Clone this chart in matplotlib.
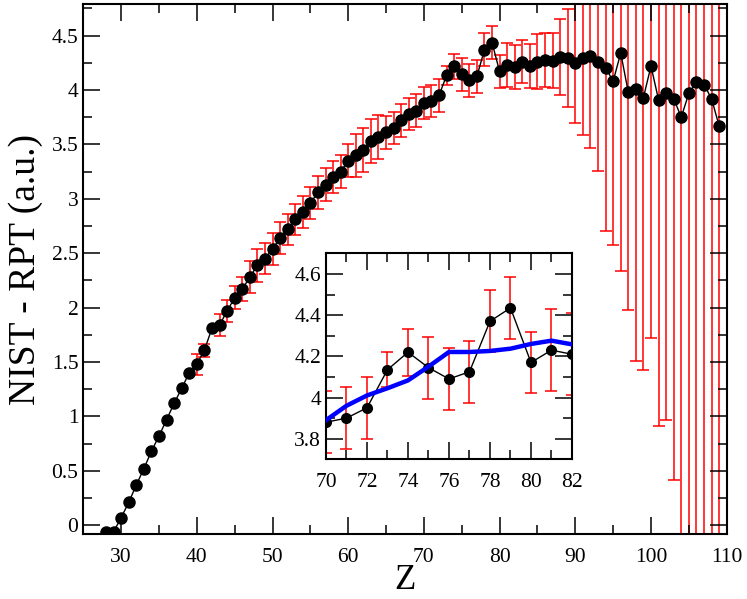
import matplotlib

matplotlib.use("Agg")

import matplotlib.pyplot as plt
import numpy as np
from matplotlib.ticker import FuncFormatter, MultipleLocator

plt.rcParams["font.family"] = ["Liberation Serif", "DejaVu Serif"]

# NIST - RPT difference vs nuclear charge Z
z_values = list(range(28, 110))
diff = [
    -0.06, -0.06, 0.07, 0.21, 0.37, 0.52, 0.68, 0.82, 0.97, 1.12,   # 28-37
    1.26, 1.40, 1.48, 1.61, 1.81, 1.84, 1.97, 2.09, 2.17, 2.28,     # 38-47
    2.39, 2.45, 2.54, 2.64, 2.72, 2.81, 2.88, 2.96, 3.06, 3.13,     # 48-57
    3.20, 3.25, 3.35, 3.40, 3.45, 3.53, 3.57, 3.61, 3.65, 3.72,     # 58-67
    3.78, 3.81, 3.88, 3.90, 3.95, 4.135, 4.22, 4.145, 4.09, 4.125,  # 68-77
    4.37, 4.435, 4.17, 4.23, 4.21, 4.26, 4.22, 4.26, 4.275, 4.27,   # 78-87
    4.305, 4.295, 4.25, 4.29, 4.315, 4.26, 4.205, 4.08, 4.34, 3.98,  # 88-97
    4.01, 3.93, 4.22, 3.91, 3.97, 3.92, 3.75, 3.97, 4.07, 4.05,     # 98-107
    3.92, 3.67,                                                     # 108-109
]
diff_err = [
    0, 0, 0, 0, 0, 0, 0, 0, 0, 0,                                   # 28-37
    0, 0, 0.095, 0.06, 0, 0.10, 0.10, 0.105, 0.11, 0.145,           # 38-47
    0.15, 0.145, 0.145, 0.15, 0.145, 0.14, 0.15, 0.15, 0.15, 0.15,  # 48-57
    0.15, 0.15, 0.15, 0.2, 0.2, 0.2, 0.2, 0.15, 0.15, 0.15,         # 58-67
    0.15, 0.15, 0.15, 0.15, 0.15, 0.086, 0.115, 0.15, 0.15, 0.15,   # 68-77
    0.15, 0.15, 0.15, 0.2, 0.2, 0.2, 0.2, 0.25, 0.25, 0.25,         # 78-87
    0.35, 0.45, 0.55, 0.7, 0.85, 1.0, 1.5, 1.5, 2.0, 2.0,           # 88-97
    2.5, 2.5, 2.5, 3.0, 3.0, 3.5, 4.0, 4.5, 4.5, 5.0,               # 98-107
    5.0, 5.0,                                                       # 108-109
]

# smooth curve shown in the inset
fit_z = list(range(70, 83))
fit_values = [3.89, 3.96, 4.01, 4.045, 4.083, 4.15, 4.221, 4.221, 4.226,
              4.237, 4.26, 4.276, 4.258]

z_arr = np.array(z_values, dtype=float)
d_arr = np.array(diff)
e_arr = np.array(diff_err)
has_err = e_arr > 0

fmt = FuncFormatter(lambda v, _pos: f"{v:g}")


def _style_axes(ax, labelsize):
    for spine in ax.spines.values():
        spine.set_linewidth(1.5)
    ax.tick_params(which="both", direction="in", top=True, right=True,
                   width=1.1, labelsize=labelsize)
    ax.tick_params(which="major", length=12.5)
    ax.tick_params(which="minor", length=6.5)
    ax.tick_params(axis="x", which="both", pad=10)
    ax.tick_params(axis="y", which="both", pad=3.5)
    ax.xaxis.set_major_formatter(fmt)
    ax.yaxis.set_major_formatter(fmt)


fig = plt.figure(figsize=(7.47, 5.99), dpi=100)
ax = fig.add_axes([0.1115, 0.1085, 0.8613, 0.8848])
ax.errorbar(z_arr[has_err], d_arr[has_err], yerr=e_arr[has_err], fmt="none",
            ecolor="#ff0000", elinewidth=1.1, capsize=4, capthick=1.1, zorder=1)
ax.plot(z_arr, d_arr, color="black", linewidth=1.0, marker="o",
        markersize=8, zorder=2)
ax.set_xlim(25, 110)
ax.set_ylim(-0.08, 4.79)
ax.xaxis.set_major_locator(MultipleLocator(10))
ax.xaxis.set_minor_locator(MultipleLocator(5))
ax.yaxis.set_major_locator(MultipleLocator(0.5))
ax.yaxis.set_minor_locator(MultipleLocator(0.25))
_style_axes(ax, 15.5)
ax.set_xlabel("Z", fontsize=25, labelpad=-2)
ax.set_ylabel("NIST - RPT (a.u.)", fontsize=27, labelpad=6)

# inset zoom on 70 <= Z <= 82
ins = fig.add_axes([0.4364, 0.2332, 0.3293, 0.3439])
sel = (z_arr >= 69) & (z_arr <= 83)
ins.errorbar(z_arr[sel], d_arr[sel], yerr=e_arr[sel], fmt="none",
             ecolor="#ff0000", elinewidth=1.1, capsize=4, capthick=1.1,
             zorder=1)
ins.plot(z_arr[sel], d_arr[sel], color="black", linewidth=1.0, marker="o",
         markersize=7, zorder=2)
ins.plot(fit_z, fit_values, color="#0000ff", linewidth=3.2, zorder=3)
ins.set_xlim(70, 82)
ins.set_ylim(3.7, 4.7)
ins.xaxis.set_major_locator(MultipleLocator(2))
ins.xaxis.set_minor_locator(MultipleLocator(1))
ins.yaxis.set_major_locator(MultipleLocator(0.2))
ins.yaxis.set_minor_locator(MultipleLocator(0.1))
_style_axes(ins, 15.5)

fig.savefig("out.png", dpi=100)
